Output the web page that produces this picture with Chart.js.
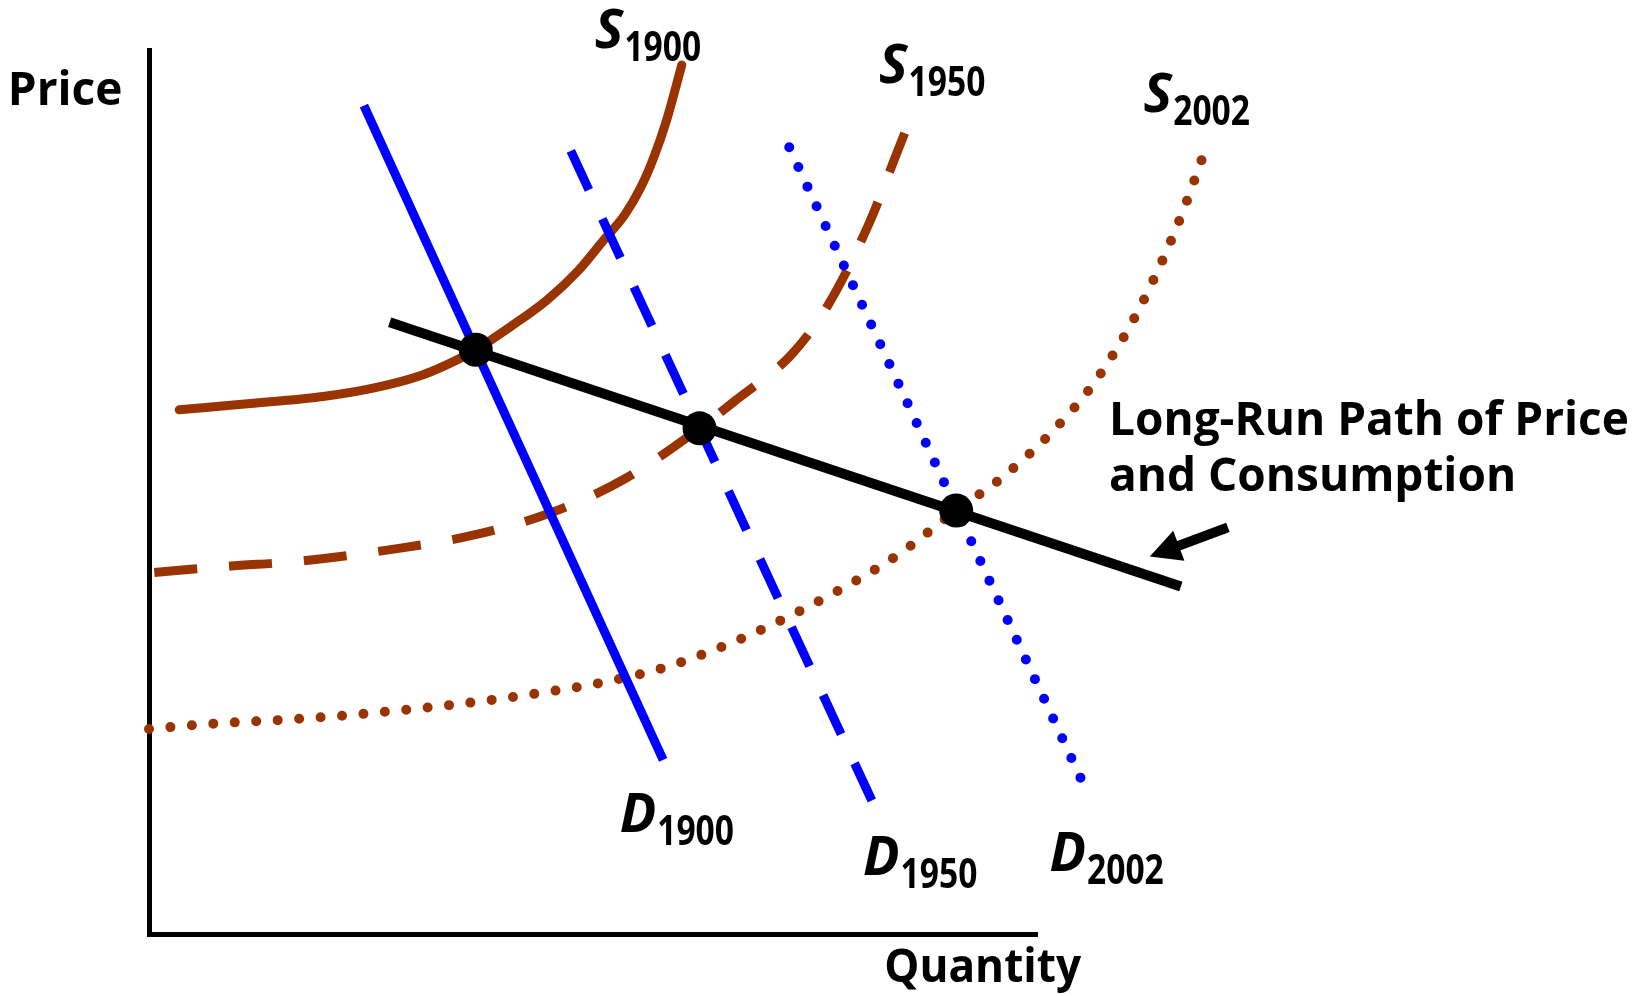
<!DOCTYPE html>
<html><head><meta charset="utf-8">
<script src="https://cdn.jsdelivr.net/npm/chart.js@4/dist/chart.umd.min.js"></script>
<style>html,body{margin:0;padding:0;background:#fff;overflow:hidden}canvas{display:block}</style>
</head><body>
<canvas id="c" width="1633" height="996"></canvas>
<script>
// ---- Data (Quantity, Price) in axis units 0..100 ----
const supply1900 = [[3.4,59.3],[11.4,60.0],[19.6,60.8],[25.5,61.8],[30.7,63.2],[34.8,65.0],[36.8,66.1],[40.7,68.7],[44.8,71.7],[48.3,75.0],[51.2,78.5],[53.6,81.4],[55.4,84.5],[56.9,88.0],[58.3,92.1],[60.0,98.3]];
const supply1950 = [[0.6,40.9],[9.0,41.6],[17.2,42.2],[26.6,43.4],[36.0,45.0],[45.4,47.7],[53.6,51.5],[62.0,57.2],[66.1,60.4],[72.4,65.6],[76.5,71.2],[81.1,80.4],[84.2,88.3],[85.1,90.6]];
const supply2002 = [[0,23.2],[7.3,23.8],[14.6,24.2],[21.8,24.7],[29.2,25.4],[36.4,26.2],[43.6,27.2],[50.8,28.4],[57.9,30.1],[64.8,32.6],[71.4,35.6],[77.9,39.0],[84.2,42.8],[90.9,47.9],[95.9,51.5],[101.4,56.5],[106.1,61.9],[110.1,68.1],[113.4,74.6],[116.3,81.4],[118.8,88.3]];
const demand1900 = [[24.2,93.7],[57.9,19.7]];
const demand1950 = [[47.5,88.6],[81.4,15.1]];
const demand2002 = [[72.1,89.0],[105.9,15.5]];
const longRunPath = [[27.1,69.2],[116.2,39.3]];
const equilibria = [[36.8,66.1],[62.0,57.2],[90.9,47.9]];
const arrowQ = [121.5,112.7];   // tail, tip
const arrowP = [46.0,42.7];
const axisQ = [0,100];
const axisP = [0,100];

// ---- Labels ----
const plainTexts = ['Price','Quantity','Long-Run Path of Price','and Consumption'];
const plainQ = [-15.9, 82.8, 108.1, 108.1];
const plainP = [93.8, -5.4, 56.4, 50.1];
const curveMain = ['S','S','S','D','D','D'];
const curveSub = ['1900','1950','2002','1900','1950','2002'];
const curveQ = [50.2, 82.2, 112.0, 53.0, 80.4, 101.4];
const curveP = [100.2, 96.3, 93.0, 11.5, 6.7, 7.1];

const BROWN = '#993300', BLUE = '#0000ff', BLACK = '#000000';
const pts = a => a.map(([x,y]) => ({x, y}));

const textPlugin = {
  id: 'texts',
  afterDraw(chart) {
    const ctx = chart.ctx, sx = chart.scales.x, sy = chart.scales.y;
    ctx.save();
    ctx.fillStyle = '#000';
    ctx.textAlign = 'left';
    ctx.textBaseline = 'alphabetic';
    plainTexts.forEach((t, i) => {
      ctx.font = 'bold 46px "Open Sans"';
      const px = sx.getPixelForValue(plainQ[i]), py = sy.getPixelForValue(plainP[i]);
      ctx.save();
      ctx.translate(px, py);
      if (t === 'Quantity') ctx.scale(0.96, 1);
      ctx.fillText(t, 0, 0);
      ctx.restore();
    });
    curveMain.forEach((m, i) => {
      const px = sx.getPixelForValue(curveQ[i]), py = sy.getPixelForValue(curveP[i]);
      ctx.font = 'italic bold 54px "Open Sans"';
      ctx.fillText(m, px, py);
      const w = ctx.measureText(m).width;
      ctx.save();
      ctx.translate(px + w + 1, py + 13);
      ctx.scale(0.8, 1);
      ctx.font = 'bold 42px "Open Sans"';
      ctx.fillText(curveSub[i], 0, 0);
      ctx.restore();
    });
    ctx.restore();
  }
};

const arrowPlugin = {
  id: 'arrow',
  afterDatasetsDraw(chart) {
    const ctx = chart.ctx, sx = chart.scales.x, sy = chart.scales.y;
    const tx = sx.getPixelForValue(arrowQ[0]), ty = sy.getPixelForValue(arrowP[0]);
    const hx = sx.getPixelForValue(arrowQ[1]), hy = sy.getPixelForValue(arrowP[1]);
    const len = Math.hypot(hx - tx, hy - ty), ux = (hx - tx) / len, uy = (hy - ty) / len;
    const headLen = 31, headHalf = 16;
    const bx = hx - ux * headLen, by = hy - uy * headLen;
    ctx.save();
    ctx.strokeStyle = BLACK; ctx.fillStyle = BLACK;
    ctx.lineWidth = 10; ctx.lineCap = 'butt';
    ctx.beginPath(); ctx.moveTo(tx, ty); ctx.lineTo(bx + ux * 2, by + uy * 2); ctx.stroke();
    ctx.beginPath();
    ctx.moveTo(hx, hy);
    ctx.lineTo(bx - uy * headHalf, by + ux * headHalf);
    ctx.lineTo(bx + uy * headHalf, by - ux * headHalf);
    ctx.closePath(); ctx.fill();
    ctx.restore();
  }
};

const lineDefaults = { showLine: true, pointRadius: 0, pointHoverRadius: 0, clip: false, fill: false, cubicInterpolationMode: 'monotone' };

new Chart(document.getElementById('c'), {
  type: 'scatter',
  data: {
    datasets: [
      Object.assign({}, lineDefaults, { label: 'Equilibria', data: pts(equilibria), showLine: false, pointRadius: 17, pointBackgroundColor: BLACK, pointBorderWidth: 0, order: 0 }),
      Object.assign({}, lineDefaults, { label: 'Long-Run Path', data: pts(longRunPath), borderColor: BLACK, borderWidth: 10, borderCapStyle: 'butt', order: 1 }),
      Object.assign({}, lineDefaults, { label: 'D1900', data: pts(demand1900), borderColor: BLUE, borderWidth: 9, borderCapStyle: 'butt', order: 2 }),
      Object.assign({}, lineDefaults, { label: 'D1950', data: pts(demand1950), borderColor: BLUE, borderWidth: 9, borderDash: [43, 32], borderCapStyle: 'butt', order: 2 }),
      Object.assign({}, lineDefaults, { label: 'D2002', data: pts(demand2002), borderColor: BLUE, borderWidth: 10, borderDash: [0, 21.7], borderCapStyle: 'round', order: 2 }),
      Object.assign({}, lineDefaults, { label: 'S1900', data: pts(supply1900), borderColor: BROWN, borderWidth: 9, borderCapStyle: 'round', order: 3 }),
      Object.assign({}, lineDefaults, { label: 'S1950', data: pts(supply1950), borderColor: BROWN, borderWidth: 9, borderDash: [43, 32], borderCapStyle: 'butt', order: 3 }),
      Object.assign({}, lineDefaults, { label: 'S2002', data: pts(supply2002), borderColor: BROWN, borderWidth: 10, borderDash: [0, 21.5], borderCapStyle: 'round', order: 3 })
    ]
  },
  options: {
    responsive: false,
    animation: false,
    events: [],
    layout: { padding: { left: 149, right: 596, top: 50, bottom: 62 } },
    plugins: { legend: { display: false }, tooltip: { enabled: false } },
    scales: {
      x: { type: 'linear', bounds: 'data', afterDataLimits: s => { s.min = axisQ[0]; s.max = axisQ[1]; },
           ticks: { display: false }, grid: { display: false, drawTicks: false }, border: { display: true, color: BLACK, width: 5 } },
      y: { type: 'linear', bounds: 'data', afterDataLimits: s => { s.min = axisP[0]; s.max = axisP[1]; },
           ticks: { display: false }, grid: { display: false, drawTicks: false }, border: { display: true, color: BLACK, width: 5 } }
    }
  },
  plugins: [arrowPlugin, textPlugin]
});
</script>
</body></html>
